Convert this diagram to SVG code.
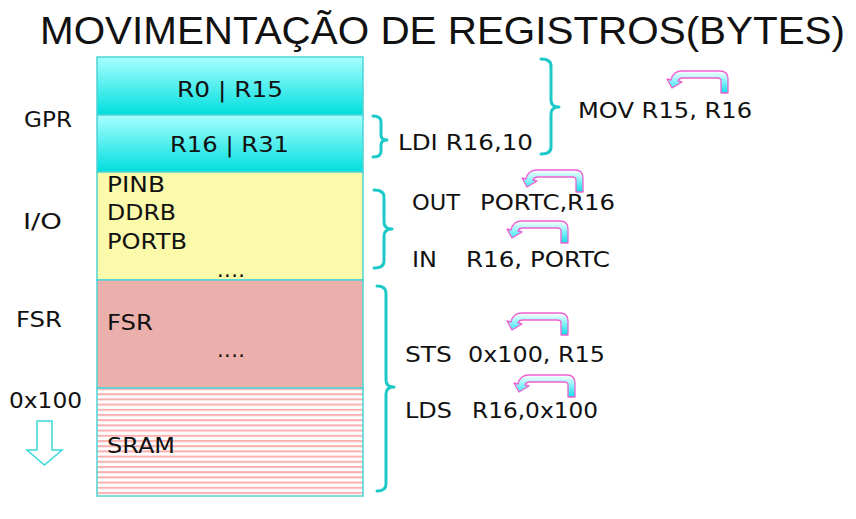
<svg xmlns="http://www.w3.org/2000/svg" width="856" height="519" viewBox="0 0 856 519">
<style>
.t{font-family:"DejaVu Sans","Verdana",sans-serif;font-size:21px;fill:#111}
.title{font-family:"Liberation Sans Narrow","Liberation Sans",sans-serif;font-size:38px;fill:#111}
.br{fill:none;stroke:#1ec8c8;stroke-width:3;stroke-linejoin:round;stroke-linecap:round}
.blk{stroke:#4cd4d4;stroke-width:1.5}
.arw{fill:url(#ag);stroke:#f060d0;stroke-width:1.3;stroke-linejoin:round}
</style>
<defs>
<linearGradient id="cg" x1="0" y1="0" x2="0" y2="1">
<stop offset="0" stop-color="#a8ffff"/>
<stop offset="1" stop-color="#00dede"/>
</linearGradient>
<linearGradient id="ag" x1="0" y1="0" x2="0" y2="1">
<stop offset="0" stop-color="#ffffff"/>
<stop offset="0.5" stop-color="#7ff2f6"/>
<stop offset="1" stop-color="#10dde6"/>
</linearGradient>
<pattern id="stripes" x="0" y="388" width="10" height="5.2" patternUnits="userSpaceOnUse">
<rect width="10" height="5.2" fill="#ffffff"/>
<rect y="0" width="10" height="2" fill="#f9b0ae"/>
</pattern>
<path id="bend" class="arw" d="M62 22 L55 22 L55 10 Q55 7 51 7 L17 7 Q13 7 12 10 L16 11 L6 17 L1 8 L5 9 Q7 0 16 0 L54 0 Q62 0 62 8 Z"/>
</defs>

<text class="title" x="40" y="44" textLength="805" lengthAdjust="spacingAndGlyphs">MOVIMENTAÇÃO DE REGISTROS(BYTES)</text>

<g id="labels-left">
<text class="t" x="24" y="127" textLength="48" lengthAdjust="spacingAndGlyphs">GPR</text>
<text class="t" x="23" y="229" textLength="39" lengthAdjust="spacingAndGlyphs">I/O</text>
<text class="t" x="16" y="327" textLength="46" lengthAdjust="spacingAndGlyphs">FSR</text>
<text class="t" x="9" y="408" textLength="73" lengthAdjust="spacingAndGlyphs">0x100</text>
<path d="M37 421 L52 421 L52 450 L62 450 L44.5 465 L27 450 L37 450 Z" fill="#ffffff" stroke="#3ad8d8" stroke-width="1.5"/>
</g>

<g id="gpr-r0-r15">
<rect class="blk" x="97" y="57" width="266" height="58" fill="url(#cg)"/>
<text class="t" x="177" y="97" textLength="106" lengthAdjust="spacingAndGlyphs">R0 | R15</text>
</g>
<g id="gpr-r16-r31">
<rect class="blk" x="97" y="115" width="266" height="57" fill="url(#cg)"/>
<text class="t" x="170" y="152" textLength="119" lengthAdjust="spacingAndGlyphs">R16 | R31</text>
</g>
<g id="io">
<rect class="blk" x="97" y="172" width="266" height="108" fill="#fafaaa"/>
<text class="t" x="107" y="192" textLength="58" lengthAdjust="spacingAndGlyphs">PINB</text>
<text class="t" x="107" y="220" textLength="69" lengthAdjust="spacingAndGlyphs">DDRB</text>
<text class="t" x="107" y="249" textLength="80" lengthAdjust="spacingAndGlyphs">PORTB</text>
<text class="t" x="217" y="277" textLength="28" lengthAdjust="spacing">....</text>
</g>
<g id="fsr">
<rect class="blk" x="97" y="280" width="266" height="108" fill="#ecb0ac"/>
<text class="t" x="107" y="330" textLength="46" lengthAdjust="spacingAndGlyphs">FSR</text>
<text class="t" x="217" y="357" textLength="28" lengthAdjust="spacing">....</text>
</g>
<g id="sram">
<rect class="blk" x="97" y="388" width="266" height="108" fill="url(#stripes)"/>
<text class="t" x="107" y="453" textLength="68" lengthAdjust="spacingAndGlyphs">SRAM</text>
</g>

<g id="connectors">
<path class="br" d="M373 116 Q381 116 381 122 L381 135 Q381 140 387 140 Q381 140 381 145 L381 151 Q381 157 373 157"/>
<path class="br" d="M541 59 Q551 59 551 66 L551 100 Q551 107 559 107 Q551 107 551 114 L551 147 Q551 154 541 154"/>
<path class="br" d="M374 190 Q384 190 384 197 L384 222 Q384 229 392 229 Q384 229 384 236 L384 261 Q384 268 374 268"/>
<path class="br" d="M377 286 Q386 286 386 293 L386 380 Q386 387 394 387 Q386 387 386 394 L386 484 Q386 491 377 491"/>
<use href="#bend" x="666" y="71"/>
<use href="#bend" x="521" y="170"/>
<use href="#bend" x="506" y="221"/>
<use href="#bend" x="506" y="313"/>
<use href="#bend" x="513" y="375"/>
</g>

<g id="instructions">
<text class="t" x="398" y="150" textLength="135" lengthAdjust="spacingAndGlyphs">LDI R16,10</text>
<text class="t" x="578" y="118" textLength="174" lengthAdjust="spacingAndGlyphs">MOV R15, R16</text>
<text class="t" y="210"><tspan x="412" textLength="48" lengthAdjust="spacingAndGlyphs">OUT</tspan><tspan x="480" textLength="135" lengthAdjust="spacingAndGlyphs">PORTC,R16</tspan></text>
<text class="t" y="267"><tspan x="412" textLength="25" lengthAdjust="spacingAndGlyphs">IN</tspan><tspan x="466" textLength="144" lengthAdjust="spacingAndGlyphs">R16, PORTC</tspan></text>
<text class="t" y="362"><tspan x="405" textLength="47" lengthAdjust="spacingAndGlyphs">STS</tspan><tspan x="468" textLength="137" lengthAdjust="spacingAndGlyphs">0x100, R15</tspan></text>
<text class="t" y="418"><tspan x="405" textLength="47" lengthAdjust="spacingAndGlyphs">LDS</tspan><tspan x="472" textLength="126" lengthAdjust="spacingAndGlyphs">R16,0x100</tspan></text>
</g>
</svg>
